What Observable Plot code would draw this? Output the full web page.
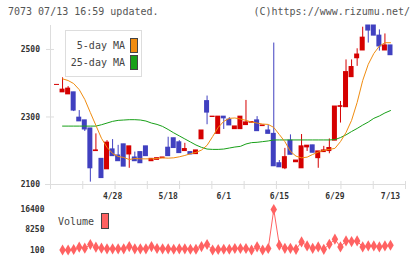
<!DOCTYPE html>
<html>
<head>
<meta charset="utf-8">
<script src="https://cdn.jsdelivr.net/npm/d3@7"></script>
<script src="https://cdn.jsdelivr.net/npm/@observablehq/plot@0.6"></script>
<style>
  html, body { margin: 0; padding: 0; background: #fff; }
  #chart { position: relative; width: 420px; height: 259px; overflow: hidden; background: #fff;
           font-family: "DejaVu Sans Mono", "Liberation Mono", monospace; }
  #chart svg { position: absolute; left: 0; }
  .lbl { position: absolute; font-size: 10px; line-height: 12px; height: 12px; white-space: pre; color: #555; }
</style>
</head>
<body>
<div id="chart"></div>
<script>
// Daily candles, one per trading day (index 0 .. 60)
const opens  = [2395,2373,2367,2373,2298,2290,2266,2199,2176,2145,2204,2186,2219,2189,2180,2196,2213,2169,2173,2178,
                2209,2237,2225,2199,2196,2190,2234,2347,2300,2250,2301,2292,2264,2264,2276,2283,2290,2273,2260,2250,
                2163,2148,2230,2166,2148,2210,2216,2178,2196,2199,2230,2330,2329,2418,2474,2497,2571,2571,2541,2497,2512];
const highs  = [2395,2416,2390,2373,2319,2290,2266,2250,2176,2230,2233,2216,2219,2213,2196,2196,2213,2176,2178,2180,
                2240,2237,2230,2222,2196,2201,2260,2362,2301,2301,2301,2298,2272,2301,2349,2285,2301,2275,2275,2519,
                2171,2207,2247,2171,2248,2215,2216,2198,2213,2235,2331,2346,2469,2469,2502,2566,2571,2571,2558,2546,2512];
const lows   = [2395,2373,2367,2316,2287,2257,2107,2199,2119,2145,2184,2169,2153,2148,2169,2163,2184,2169,2173,2178,
                2184,2208,2193,2199,2189,2190,2234,2277,2300,2250,2263,2275,2264,2264,2276,2283,2258,2273,2250,2154,
                2151,2144,2188,2166,2148,2198,2194,2148,2196,2191,2230,2282,2329,2418,2450,2497,2519,2541,2495,2497,2483];
const closes = [2395,2381,2384,2319,2287,2263,2148,2201,2119,2224,2184,2169,2153,2213,2169,2163,2184,2176,2178,2180,
                2184,2208,2193,2205,2189,2201,2260,2313,2301,2301,2296,2275,2272,2301,2284,2285,2258,2275,2250,2154,
                2151,2181,2188,2171,2213,2215,2194,2198,2201,2208,2331,2332,2433,2448,2485,2535,2556,2541,2509,2512,2483];

// Moving averages and volume (no value on the first day)
const ma5  = [null,2413,2408,2399,2381,2352,2313,2275,2237,2210,2192,2183,2180,2174,2177,2176,2176,2176,2177,2179,
              2178,2179,2182,2186,2191,2195,2202,2216,2242,2269,2287,2296,2297,2294,2290,2285,2282,2279,2278,2269,
              2248,2227,2198,2184,2179,2181,2189,2196,2201,2204,2207,2227,2254,2290,2343,2408,2456,2488,2510,2520,2520];
const ma25 = [null,2273,2273,2273,2273,2273,2273,2273,2277,2282,2287,2290,2291,2292,2292,2291,2288,2282,2278,2272,
              2263,2253,2244,2235,2226,2217,2210,2205,2204,2204,2205,2208,2211,2213,2220,2224,2225,2227,2229,2232,
              2232,2232,2232,2232,2232,2232,2232,2232,2232,2232,2233,2239,2247,2257,2266,2276,2285,2296,2303,2312,2319];
const volumes = [null,100,100,300,1230,820,2310,1230,820,580,580,580,580,1500,580,580,580,1500,700,580,
                 580,400,580,580,400,400,1500,2310,100,300,400,400,700,700,700,100,1400,100,700,16400,
                 2015,790,790,385,3360,1730,790,1320,385,2420,4460,1320,3770,3480,3770,1320,1730,1730,1320,1730,2015];

// Date labels under the price panel, by trading-day index
const dateLabels = ["4/28","5/18","6/1","6/15","6/29","7/13"];
const dateIndex  = [10,20,30,40,50,60];
const priceTicks = [2100,2300,2500];
const volumeTicks = [100,8250,16400];

const UP = "#d50000", DOWN = "#4040c0";
const MA5_COLOR = "#f08c10", MA25_COLOR = "#18a018", VOL_COLOR = "#ff6262";

const candles = opens.map((o, i) => ({i, open: o, high: highs[i], low: lows[i], close: closes[i]}));
const ma5Data = ma5.map((v, i) => ({i, v}));
const ma25Data = ma25.map((v, i) => ({i, v}));
const volData = volumes.map((v, i) => ({i, v}));
const labelOf = new Map(dateIndex.map((d, k) => [d, dateLabels[k]]));

const xDomain = [-1.17, 62.7];
// evenly spaced tick marks along the bottom axis
const gridTicks = d3.range(12).map(k => xDomain[0] + k * (xDomain[1] - xDomain[0]) / 11);
const candleColor = d => d.close >= d.open ? UP : DOWN;
const plain = d => String(d);

const font = {fontFamily: "DejaVu Sans Mono, monospace", fontSize: "8px", background: "transparent", overflow: "visible"};

const price = Plot.plot({
  width: 420, height: 206,
  marginLeft: 50, marginRight: 15, marginTop: 25, marginBottom: 22,
  x: {domain: xDomain, axis: null},
  y: {domain: [2100, 2571], axis: null},
  style: font,
  marks: [
    Plot.ruleX([xDomain[0]], {stroke: "#ddd", insetBottom: -5}),
    Plot.ruleY([2100], {stroke: "#ddd", insetLeft: -5}),
    Plot.axisY({ticks: priceTicks, tickSize: 8, dx: 4, tickFormat: () => "", stroke: "#ddd", label: null}),
    Plot.axisY({ticks: priceTicks, tickSize: 0, tickPadding: 10.5, tickFormat: plain, fill: "#333", fontWeight: "bold", label: null}),
    Plot.axisX({ticks: gridTicks, tickSize: 8, dy: -3, tickFormat: () => "", stroke: "#ddd", label: null}),
    Plot.axisX({ticks: dateIndex, tickSize: 0, tickPadding: 9, tickFormat: d => labelOf.get(d), fill: "#333", fontWeight: "bold", label: null}),
    Plot.ruleX(candles, {x: "i", y1: "low", y2: "high", stroke: candleColor, strokeWidth: 1}),
    Plot.rect(candles, {x1: d => d.i - 0.45, x2: d => d.i + 0.45, y1: "open", y2: "close",
                        fill: candleColor, insetTop: -0.5, insetBottom: -0.5}),
    Plot.line(ma25Data, {x: "i", y: "v", stroke: MA25_COLOR, strokeWidth: 1}),
    Plot.line(ma5Data, {x: "i", y: "v", stroke: MA5_COLOR, strokeWidth: 1})
  ]
});

const volume = Plot.plot({
  width: 420, height: 59,
  marginLeft: 50, marginRight: 15, marginTop: 9, marginBottom: 9.5,
  x: {domain: xDomain, axis: null},
  y: {domain: [100, 16400], axis: null},
  style: font,
  marks: [
    Plot.axisY({ticks: volumeTicks, tickSize: 0, tickPadding: 6, tickFormat: plain, fill: "#333", fontWeight: "bold", label: null}),
    Plot.line(volData, {x: "i", y: "v", stroke: VOL_COLOR, strokeWidth: 1}),
    Plot.dot(volData, {x: "i", y: "v", symbol: "diamond", r: 3.4, fill: VOL_COLOR, stroke: "none"})
  ]
});

const root = document.getElementById("chart");
price.style.top = "0px";
volume.style.top = "200px";
root.appendChild(price);
root.appendChild(volume);

function addText(txt, left, top, extra = "") {
  const el = document.createElement("div");
  el.className = "lbl";
  el.textContent = txt;
  el.style.cssText += `left:${left}px;top:${top}px;${extra}`;
  root.appendChild(el);
  return el;
}
function addBox(left, top, w, h, css) {
  const el = document.createElement("div");
  el.style.cssText = `position:absolute;box-sizing:border-box;left:${left}px;top:${top}px;width:${w}px;height:${h}px;${css}`;
  root.appendChild(el);
  return el;
}

// header
addText("7073 07/13 16:59 updated.", 8, 6);
addText("(C)https://www.rizumu.net/", 0, 6, "left:auto;right:10px;");

// moving-average legend
addBox(65, 30, 77, 47, "background:#fff;border:1px solid #ddd;");
addText("5-day MA", 0, 40, "left:auto;right:" + (420 - 125) + "px;color:#444;");
addText("25-day MA", 0, 57, "left:auto;right:" + (420 - 125) + "px;color:#444;");
addBox(130, 38, 8, 15, `background:${MA5_COLOR};border:1px solid #444;`);
addBox(130, 55, 8, 15, `background:${MA25_COLOR};border:1px solid #444;`);

// volume legend
addText("Volume", 58, 216, "color:#444;");
addBox(101, 213, 8, 16, `background:${VOL_COLOR};border:1px solid #444;`);
</script>
</body>
</html>
